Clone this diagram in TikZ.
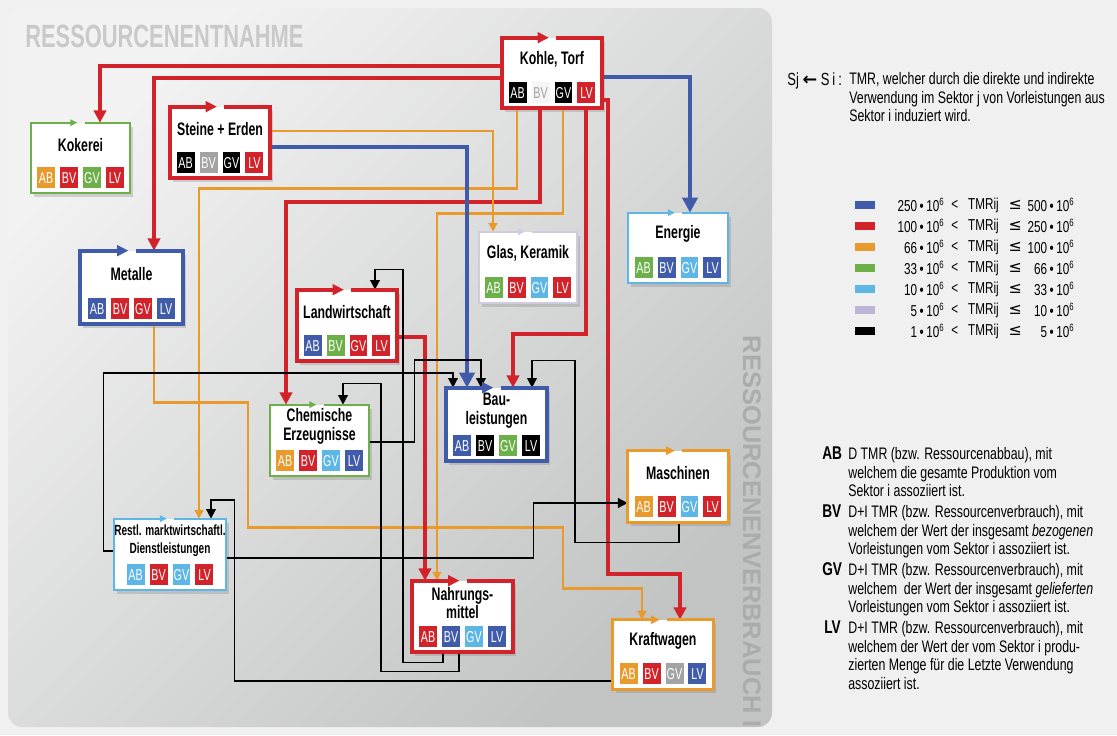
\documentclass[tikz,border=0pt]{standalone}
\usepackage{fontspec}
\setmainfont{Liberation Sans}[FakeStretch=0.68]
\newfontfamily\breit{Liberation Sans}
\newfontfamily\legende{Liberation Sans}[FakeStretch=0.74]
\newfontfamily\dejavu{DejaVu Sans}
\usepackage{xcolor}
\usetikzlibrary{arrows.meta,calc,shadows}

\definecolor{blau}{HTML}{3F5BA9}
\definecolor{rot}{HTML}{D2232A}
\definecolor{ocker}{HTML}{E99A2C}
\definecolor{gruen}{HTML}{6DB04A}
\definecolor{hellblau}{HTML}{5DB6E6}
\definecolor{lila}{HTML}{BDB5D6}
\definecolor{grau}{HTML}{A3A3A3}
\definecolor{seite}{HTML}{EFF0EF}
\definecolor{panelhell}{HTML}{F2F2F2}
\definecolor{paneldunkel}{HTML}{C2C3C3}

\setlength{\fboxsep}{0pt}
\newcommand{\kz}[2]{\colorbox{#1}{\rule[-0.09cm]{0pt}{0.42cm}\makebox[0.36cm]{\color{white}#2}}}
\newcommand{\kzleer}[1]{\colorbox{gray!8}{\rule[-0.09cm]{0pt}{0.42cm}\makebox[0.36cm]{\color{grau}#1}}}
\newcommand{\kzreihe}[4]{\kz{#1}{AB}\hspace{0.1cm}\kz{#2}{BV}\hspace{0.1cm}\kz{#3}{GV}\hspace{0.1cm}\kz{#4}{LV}}
\newcommand{\inhalt}[4]{\parbox[c][#1][t]{#2}{\centering\fontsize{10.3}{10.6}\selectfont\bfseries\vfill #3\par\vfill\fontsize{9}{10}\mdseries\selectfont #4\par\vspace{0.1cm}}}

\tikzset{
	sektor/.style={fill=white, inner sep=0pt, drop shadow={opacity=.3, shadow xshift=.06cm, shadow yshift=-.07cm}},
	dick/.style={line width=2.2pt, -{Triangle[length=6.5pt,width=6pt]}},
	mittel/.style={line width=1.6pt, -{Triangle[length=5pt,width=4.5pt]}},
	duenn/.style={line width=1.1pt, -{Triangle[length=4pt,width=3.5pt]}},
	fluss blau/.style={blau, line width=2.8pt, -{Triangle[length=8.5pt,width=8.5pt]}},
	fluss rot/.style={rot, line width=2.2pt, -{Triangle[length=7pt,width=7pt]}},
	fluss ocker/.style={ocker, line width=1.4pt, -{Triangle[length=5pt,width=5pt]}},
	fluss schwarz/.style={black, line width=.9pt, -{Triangle[length=5.5pt,width=5.5pt]}},
	zeile/.style={inner sep=0pt, font=\legende\fontsize{9}{10}\selectfont},
	legkopf/.style={anchor=north west, inner sep=0pt, font=\legende\fontsize{10.5}{10.5}\selectfont\bfseries},
	legtext/.style={anchor=north west, inner sep=0pt, align=left, font=\legende\fontsize{9.5}{10.6}\selectfont}
}

\begin{document}
\begin{tikzpicture}[x=0.02cm, y=-0.02cm]
	\useasboundingbox (0,0) rectangle (1117,735);
	\fill[seite] (0,0) rectangle (1117,735);
	\shade[rounded corners=8pt, top color=panelhell, bottom color=paneldunkel, shading angle=45] (8,8) rectangle (772,727);

	\node[anchor=west, inner sep=0pt, text=black!21, font=\fontsize{18.3}{19}\selectfont\bfseries] (entnahme) at (25,36) {RESSOURCENENTNAHME};
	\node[rotate=-90, inner sep=0pt, text=black!33, font=\breit\fontsize{14.5}{15}\selectfont\bfseries] (verbrauch) at (752,532) {RESSOURCENENVERBRAUCH I};

	\node[sektor] (kohle) at (552,73) {\inhalt{1.4cm}{2cm}{Kohle, Torf}{\kz{black}{AB}\hspace{0.1cm}\kzleer{BV}\hspace{0.1cm}\kz{black}{GV}\hspace{0.1cm}\kz{rot}{LV}}};
	\node[sektor] (kokerei) at (80.5,158) {\inhalt{1.4cm}{1.98cm}{Kokerei}{\kzreihe{ocker}{rot}{gruen}{rot}}};
	\node[sektor] (steine) at (220,142.5) {\inhalt{1.42cm}{2cm}{Steine + Erden}{\kzreihe{black}{grau}{black}{rot}}};
	\node[sektor] (metalle) at (131.5,287.5) {\inhalt{1.46cm}{2.06cm}{Metalle}{\kzreihe{blau}{rot}{rot}{blau}}};
	\node[sektor] (landw) at (347,325.5) {\inhalt{1.42cm}{2cm}{Landwirtschaft}{\kzreihe{blau}{gruen}{rot}{rot}}};
	\node[sektor] (glas) at (528,267.5) {\inhalt{1.42cm}{1.96cm}{Glas, Keramik}{\kzreihe{gruen}{rot}{hellblau}{rot}}};
	\node[sektor] (energie) at (678,248) {\inhalt{1.4cm}{2cm}{Energie}{\kzreihe{gruen}{blau}{hellblau}{blau}}};
	\node[sektor] (chemie) at (319.5,440.5) {\inhalt{1.42cm}{1.98cm}{Chemische\\Erzeugnisse}{\kzreihe{ocker}{rot}{hellblau}{blau}}};
	\node[sektor] (bau) at (496.5,424.5) {\inhalt{1.46cm}{2.02cm}{Bau-\\leistungen}{\kzreihe{blau}{black}{gruen}{black}}};
	\node[sektor] (maschinen) at (678,486.5) {\inhalt{1.42cm}{2cm}{Maschinen}{\kzreihe{ocker}{rot}{hellblau}{rot}}};
	\node[sektor] (restl) at (170,554.5) {\inhalt{1.42cm}{2.24cm}{{\fontsize{8.4}{9.6}\selectfont Restl. marktwirtschaftl.\\Dienstleistungen}}{\kzreihe{hellblau}{rot}{hellblau}{rot}}};
	\node[sektor] (nahrung) at (462.5,616.5) {\inhalt{1.42cm}{2.02cm}{Nahrungs-\\mittel}{\kzreihe{rot}{blau}{hellblau}{blau}}};
	\node[sektor] (kraft) at (663,654.5) {\inhalt{1.38cm}{2cm}{Kraftwagen}{\kzreihe{ocker}{rot}{grau}{blau}}};

	\draw[fluss rot] ($(kohle.west)+(0,-7)$) -| ($(kokerei.north)+(19.5,0)$);
	\draw[fluss rot] ($(kohle.west)+(0,5)$) -| ($(metalle.north)+(22.5,0)$);
	\draw[fluss blau] ($(kohle.east)+(0,4)$) -| ($(energie.north)+(12,0)$);
	\draw[fluss ocker] ($(kohle.south)+(-35,0)$) -- ++(0,80) -| ($(restl.north)+(29,0)$);
	\draw[fluss rot] ($(kohle.south)+(-12,0)$) -- ++(0,94) -| ($(chemie.north)+(-33.5,0)$);
	\draw[fluss ocker] ($(kohle.south)+(11,0)$) -- ++(0,105) -| ($(nahrung.north)+(-25.5,0)$);
	\draw[fluss rot] ($(kohle.south)+(34,0)$) -- ++(0,226) -| ($(bau.north)+(16.5,0)$);
	\draw[fluss rot] ($(kohle.south east)+(0,-8)$) -- ++(6,0) -- ++(0,474) -| ($(kraft.north)+(17,0)$);
	\draw[fluss blau] ($(steine.east)+(0,4.5)$) -| ($(bau.north)+(-29.5,0)$);
	\draw[fluss ocker] ($(steine.east)+(0,-11.5)$) -| ($(glas.north)+(-35,0)$);
	\draw[fluss ocker] ($(metalle.south)+(22.5,0)$) -- ++(0,78) -- ++(94,0) -- ++(0,125) -- ++(315,0) -- ++(0,61) -| ($(kraft.north)+(-21,0)$);
	\draw[fluss rot] ($(landw.east)+(0,11.5)$) -| ($(nahrung.north)+(-37.5,0)$);
	\draw[fluss schwarz] ($(nahrung.south)+(-19.5,0)$) -- ++(0,10) -- ++(-40,0) -- ++(0,-393) -| ($(landw.north)+(28,0)$);
	\draw[fluss schwarz] ($(nahrung.south)+(-3.5,0)$) -- ++(0,19) -- ++(-78,0) -- ++(0,-288) -| ($(chemie.north)+(23.5,0)$);
	\draw[fluss schwarz] ($(chemie.east)+(0,1.5)$) -- ++(45,0) -- ++(0,-82) -| ($(bau.north)+(-15.5,0)$);
	\draw[fluss schwarz] ($(restl.west)+(0,-3.5)$) -- ++(-10,0) -- ++(0,-178) -| ($(bau.north)+(-43.5,0)$);
	\draw[fluss schwarz] ($(maschinen.south)+(1,0)$) -- ++(0,20) -- ++(-104,0) -- ++(0,-182) -| ($(bau.north)+(35.5,0)$);
	\draw[fluss schwarz] ($(restl.east)+(0,3.5)$) -- ++(307,0) |- ($(maschinen.west)+(0,16.5)$);
	\draw[fluss schwarz] ($(kraft.west)+(0,26.5)$) -- ++(-378,0) -- ++(0,-181) -| ($(restl.north)+(41,0)$);

	\foreach \sek/\farbe/\stil in {kohle/rot/dick, kokerei/gruen/duenn, steine/rot/dick, metalle/blau/dick, landw/rot/dick, glas/lila!70/duenn, energie/hellblau/duenn, chemie/gruen/duenn, bau/blau/dick, maschinen/ocker/mittel, restl/hellblau/duenn, nahrung/rot/dick, kraft/ocker/mittel}
		\draw[\farbe, \stil] ($(\sek.north)+(4,0)$) -| (\sek.south east) -| (\sek.north west) -- ($(\sek.north)+(-3,0)$);

	\node[anchor=north west, inner sep=0pt, font=\legende\fontsize{10}{11}\selectfont] (sjsi) at (787,72) {Sj {\dejavu\bfseries ←} S\,i\,:};
	\node[legtext] (erkl) at (849,72) {TMR, welcher durch die direkte und indirekte\\Verwendung im Sektor j von Vorleistungen aus\\Sektor i induziert wird.};

	\foreach \farbe/\von/\bis [count=\i] in {blau/250/500, rot/100/250, ocker/66/100, gruen/33/66, hellblau/10/33, lila/5/10, black/1/5} {
		\fill[\farbe] (855,{180+21*\i}) rectangle (875,{188+21*\i});
		\node[zeile, anchor=east] (unten\i) at (945,{184+21*\i}) {\von\,\textbullet\,10\textsuperscript{6}};
		\node[zeile, anchor=west] (tmr\i) at (951,{184+21*\i}) {<\hspace{0.2cm}TMRij\hspace{0.2cm}{\dejavu\small ≤}};
		\node[zeile, anchor=east] (oben\i) at (1075,{184+21*\i}) {\bis\,\textbullet\,10\textsuperscript{6}};
	}

	\node[legkopf] (ab) at (822,446) {AB};
	\node[legtext] (abtext) at (848,447) {D TMR (bzw. Ressourcenabbau), mit\\welchem die gesamte Produktion vom\\Sektor i assoziiert ist.};
	\node[legkopf] (bv) at (822,504) {BV};
	\node[legtext] (bvtext) at (848,505) {D+I TMR (bzw. Ressourcenverbrauch), mit\\welchem der Wert der insgesamt \textit{bezogenen}\\Vorleistungen vom Sektor i assoziiert ist.};
	\node[legkopf] (gv) at (822,562) {GV};
	\node[legtext] (gvtext) at (848,563) {D+I TMR (bzw. Ressourcenverbrauch), mit\\welchem\ \ der Wert der insgesamt \textit{gelieferten}\\Vorleistungen vom Sektor i assoziiert ist.};
	\node[legkopf] (lv) at (824,620) {LV};
	\node[legtext] (lvtext) at (848,621) {D+I TMR (bzw. Ressourcenverbrauch), mit\\welchem der Wert der vom Sektor i produ-\\zierten Menge für die Letzte Verwendung\\assoziiert ist.};
\end{tikzpicture}
\end{document}
